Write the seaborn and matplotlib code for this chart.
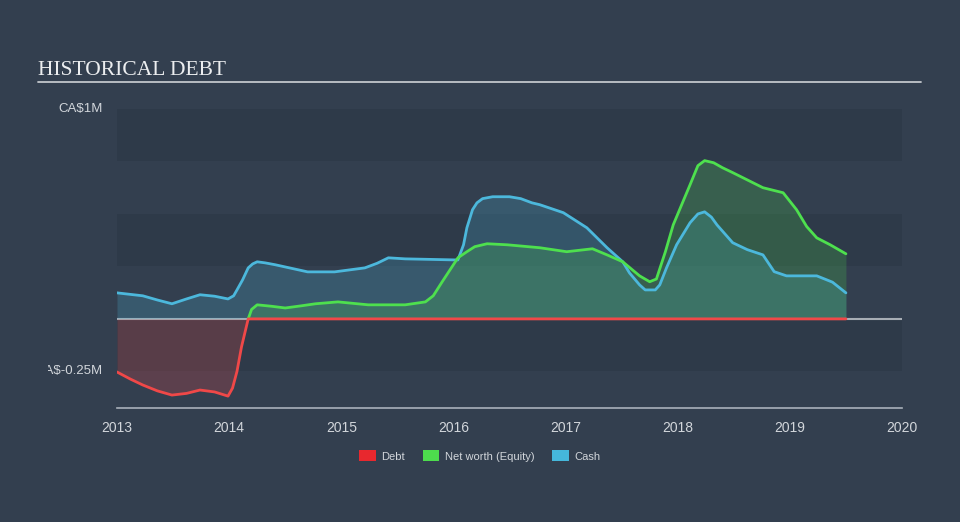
import numpy as np
import pandas as pd
import matplotlib
matplotlib.use("Agg")
import matplotlib.pyplot as plt
from matplotlib.patches import Patch
from matplotlib.lines import Line2D
from matplotlib.transforms import Bbox, TransformedBbox
import seaborn as sns

# ---- data (years, CA$ millions) ----
debt_years = [2013.00, 2013.12, 2013.23, 2013.36, 2013.49, 2013.62, 2013.74, 2013.87, 2013.99,
              2014.03, 2014.07, 2014.11, 2014.17, 2019.50]
debt_vals = [-0.253, -0.287, -0.315, -0.343, -0.363, -0.355, -0.339, -0.348, -0.368,
             -0.330, -0.250, -0.134, 0.0, 0.0]

equity_years = [2014.17, 2014.20, 2014.25, 2014.38, 2014.50, 2014.64, 2014.77, 2014.97, 2015.24,
                2015.57, 2015.75, 2015.82, 2015.90, 2015.97, 2016.04, 2016.12, 2016.19,
                2016.30, 2016.48, 2016.77, 2017.01, 2017.24, 2017.37, 2017.51, 2017.66,
                2017.75, 2017.81, 2017.89, 2017.96, 2018.04, 2018.11, 2018.18, 2018.24,
                2018.32, 2018.40, 2018.49, 2018.76, 2018.94, 2019.06, 2019.15, 2019.24,
                2019.36, 2019.50]
equity_vals = [0.0, 0.045, 0.067, 0.060, 0.052, 0.062, 0.072, 0.081, 0.067,
               0.067, 0.081, 0.110, 0.177, 0.234, 0.291, 0.320, 0.344,
               0.358, 0.353, 0.339, 0.320, 0.334, 0.305, 0.272, 0.205,
               0.177, 0.190, 0.320, 0.448, 0.550, 0.639, 0.730, 0.754,
               0.744, 0.720, 0.697, 0.625, 0.601, 0.520, 0.440, 0.386,
               0.353, 0.310]

cash_years = [2013.00, 2013.23, 2013.36, 2013.49, 2013.62, 2013.74, 2013.87, 2013.99, 2014.04,
              2014.07, 2014.12, 2014.17, 2014.21, 2014.25, 2014.32, 2014.41, 2014.70,
              2014.94, 2015.21, 2015.32, 2015.42, 2015.57, 2016.01, 2016.04, 2016.09,
              2016.12, 2016.17, 2016.21, 2016.26, 2016.35, 2016.50, 2016.60, 2016.70,
              2016.77, 2016.98, 2017.19, 2017.37, 2017.51, 2017.57, 2017.66, 2017.71,
              2017.80, 2017.84, 2017.90, 2017.99, 2018.11, 2018.18, 2018.24, 2018.30,
              2018.35, 2018.49, 2018.62, 2018.76, 2018.86, 2018.97, 2019.24, 2019.38,
              2019.50]
cash_vals = [0.124, 0.110, 0.090, 0.072, 0.095, 0.115, 0.108, 0.095, 0.110,
             0.138, 0.186, 0.243, 0.262, 0.272, 0.267, 0.258, 0.224,
             0.224, 0.243, 0.265, 0.291, 0.286, 0.281, 0.281, 0.353,
             0.434, 0.520, 0.553, 0.573, 0.582, 0.582, 0.573, 0.553,
             0.544, 0.506, 0.434, 0.339, 0.272, 0.219, 0.162, 0.138,
             0.138, 0.162, 0.243, 0.353, 0.458, 0.500, 0.510, 0.485,
             0.448, 0.363, 0.330, 0.305, 0.225, 0.205, 0.205, 0.175,
             0.124]

x_ticks = [2013, 2014, 2015, 2016, 2017, 2018, 2019, 2020]
y_labels = {1.0: "CA$1M", -0.25: "CA$-0.25M"}
series_names = ["Debt", "Net worth (Equity)", "Cash"]

# ---- style ----
BG = "#333f4f"
BAND = "#2e3a49"
RED = "#f04848"
GREEN = "#4ee04e"
BLUE = "#4cb8dc"
TXT = "#d2d6db"
AXC = "#a9b1ba"

sns.set_style("dark")
plt.rcParams["font.family"] = ["Liberation Sans", "DejaVu Sans"]

W, H = 960, 522
fig = plt.figure(figsize=(W / 100, H / 100), dpi=100, facecolor=BG)
ax = fig.add_axes([117 / W, 1 - 408 / H, (902 - 117) / W, (408 - 109) / H])
ax.set_facecolor(BG)
ax.set_xlim(2013, 2020)
ax.set_ylim(-0.4246, 1.0)

# alternating bands
for lo, hi in [(0.75, 1.0), (0.25, 0.5), (-0.25, 0.0)]:
    ax.axhspan(lo, hi, color=BAND, lw=0, zorder=0)

# zero line
ax.axhline(0, color="#a8aeb5", lw=1.5, zorder=1)

df_debt = pd.DataFrame({"year": debt_years, "value": debt_vals})
df_eq = pd.DataFrame({"year": equity_years, "value": equity_vals})
df_cash = pd.DataFrame({"year": cash_years, "value": cash_vals})

ax.fill_between(df_cash["year"], 0, df_cash["value"], color=BLUE, alpha=0.22, lw=0, zorder=2)
ax.fill_between(df_eq["year"], 0, df_eq["value"], color=GREEN, alpha=0.2, lw=0, zorder=2)
ax.fill_between(df_debt["year"], 0, df_debt["value"], color=RED, alpha=0.22, lw=0, zorder=2)

kw = dict(ax=ax, lw=2.0, estimator=None, sort=False)
sns.lineplot(data=df_cash, x="year", y="value", color=BLUE, zorder=4, **kw)
sns.lineplot(data=df_eq, x="year", y="value", color=GREEN, zorder=4, **kw)
sns.lineplot(data=df_debt, x="year", y="value", color=RED, zorder=5, **kw)
for ln in ax.lines:
    ln.set_solid_joinstyle("round")
    ln.set_solid_capstyle("round")

ax.set_xlabel("")
ax.set_ylabel("")
for s in ["top", "right", "left"]:
    ax.spines[s].set_visible(False)
ax.spines["bottom"].set_color(AXC)
ax.spines["bottom"].set_linewidth(1.2)
ax.set_xticks(x_ticks)
ax.set_xticklabels([str(t) for t in x_ticks])
ax.tick_params(axis="x", direction="out", length=7, width=1.2, color=AXC,
               labelcolor=TXT, labelsize=10, pad=2)
ax.set_yticks([])
ax.grid(False)

# y labels (left one clipped like reference)
clip = TransformedBbox(Bbox([[48 / W, 0], [1, 1]]), fig.transFigure)
for val, lab in y_labels.items():
    ypix = 319 - val * 209.6
    t = fig.text(103 / W, 1 - ypix / H, lab, ha="right", va="center",
                 color=TXT, fontsize=9.5)
    t.set_clip_box(clip)
    t.set_clip_on(True)

# title + rule
fig.text(38 / W, 1 - 75 / H, "HISTORICAL DEBT", ha="left", va="baseline",
         color="#eceef0", fontsize=15.5, family=["Liberation Serif", "DejaVu Serif"])
fig.add_artist(Line2D([38 / W, 921 / W], [1 - 82 / H, 1 - 82 / H],
                      transform=fig.transFigure, color="#c3c7cc", lw=1.3))

# legend
handles = [Patch(facecolor=c, edgecolor="none") for c in ["#e8282e", "#4ddc4d", "#45b7db"]]
leg = fig.legend(handles, series_names, loc="center", bbox_to_anchor=(0.5, 1 - 456 / H),
                 ncol=3, frameon=False, fontsize=8, handlelength=1.5, handleheight=1.1,
                 handletextpad=0.5, columnspacing=1.6)
for t in leg.get_texts():
    t.set_color(TXT)

fig.savefig("out.png", dpi=100, facecolor=BG)
